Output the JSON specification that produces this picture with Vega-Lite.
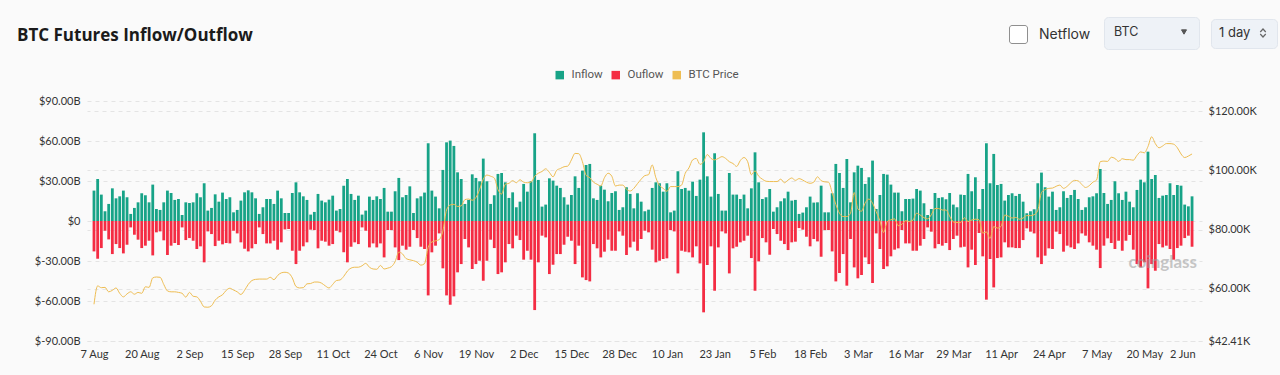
{
"$schema": "https://vega.github.io/schema/vega-lite/v6.json",
"width": 1115, "height": 240,
"autosize": {"type": "none"},
"padding": {"left": 87, "top": 101, "right": 78, "bottom": 34},
"background": "#fafafa",
"title": {"text": "BTC Futures Inflow/Outflow", "anchor": "start", "frame": "group", "dx": -70, "dy": 28, "fontSize": 17, "font": "Open Sans", "fontWeight": 700, "color": "#1b1b1b", "offset": 0},
"config": {
  "view": {"stroke": null},
  "axis": {"labelFont": "Lato", "labelFontSize": 11, "labelColor": "#333333", "ticks": false, "domain": false, "gridColor": "#e4e4e4", "gridDash": [4, 4], "gridWidth": 1, "labelOverlap": false},
  "legend": {"symbolOpacity": 1, "labelFont": "Inter", "titleFont": "Inter"}
},
"data": {"values": [
{"date":"2024-08-07","inflow":22.8,"outflow":-22.8,"price":54800},
{"date":"2024-08-08","inflow":31.5,"outflow":-28.3,"price":61000},
{"date":"2024-08-09","inflow":19.8,"outflow":-20.3,"price":60400},
{"date":"2024-08-10","inflow":7.3,"outflow":-7.3,"price":60500},
{"date":"2024-08-11","inflow":12.8,"outflow":-13.8,"price":59000},
{"date":"2024-08-12","inflow":24.5,"outflow":-24.8,"price":59500},
{"date":"2024-08-13","inflow":17.0,"outflow":-17.3,"price":60300},
{"date":"2024-08-14","inflow":18.5,"outflow":-20.3,"price":58500},
{"date":"2024-08-15","inflow":22.8,"outflow":-24.3,"price":57300},
{"date":"2024-08-16","inflow":17.8,"outflow":-17.8,"price":58300},
{"date":"2024-08-17","inflow":5.3,"outflow":-4.8,"price":59000},
{"date":"2024-08-18","inflow":9.8,"outflow":-10.3,"price":58200},
{"date":"2024-08-19","inflow":14.0,"outflow":-14.0,"price":58800},
{"date":"2024-08-20","inflow":20.8,"outflow":-20.3,"price":58500},
{"date":"2024-08-21","inflow":19.3,"outflow":-18.5,"price":60700},
{"date":"2024-08-22","inflow":14.0,"outflow":-14.8,"price":60500},
{"date":"2024-08-23","inflow":27.3,"outflow":-25.8,"price":63700},
{"date":"2024-08-24","inflow":9.0,"outflow":-8.5,"price":64000},
{"date":"2024-08-25","inflow":8.3,"outflow":-7.8,"price":63900},
{"date":"2024-08-26","inflow":14.0,"outflow":-14.5,"price":61500},
{"date":"2024-08-27","inflow":22.8,"outflow":-25.5,"price":59300},
{"date":"2024-08-28","inflow":21.0,"outflow":-18.5,"price":59000},
{"date":"2024-08-29","inflow":15.8,"outflow":-16.5,"price":59000},
{"date":"2024-08-30","inflow":16.5,"outflow":-18.0,"price":58800},
{"date":"2024-08-31","inflow":4.5,"outflow":-4.8,"price":58500},
{"date":"2024-09-01","inflow":14.0,"outflow":-14.3,"price":57200},
{"date":"2024-09-02","inflow":13.5,"outflow":-12.8,"price":58800},
{"date":"2024-09-03","inflow":14.0,"outflow":-14.8,"price":57500},
{"date":"2024-09-04","inflow":20.8,"outflow":-21.0,"price":57300},
{"date":"2024-09-05","inflow":17.8,"outflow":-19.0,"price":55800},
{"date":"2024-09-06","inflow":28.3,"outflow":-31.0,"price":53900},
{"date":"2024-09-07","inflow":7.8,"outflow":-7.8,"price":53800},
{"date":"2024-09-08","inflow":9.8,"outflow":-9.8,"price":54300},
{"date":"2024-09-09","inflow":20.0,"outflow":-18.8,"price":56200},
{"date":"2024-09-10","inflow":14.5,"outflow":-14.8,"price":57300},
{"date":"2024-09-11","inflow":21.3,"outflow":-17.5,"price":58000},
{"date":"2024-09-12","inflow":16.5,"outflow":-16.5,"price":59500},
{"date":"2024-09-13","inflow":17.8,"outflow":-16.8,"price":60200},
{"date":"2024-09-14","inflow":6.5,"outflow":-7.3,"price":59600},
{"date":"2024-09-15","inflow":8.3,"outflow":-9.3,"price":59000},
{"date":"2024-09-16","inflow":15.3,"outflow":-16.0,"price":58100},
{"date":"2024-09-17","inflow":21.5,"outflow":-20.8,"price":59500},
{"date":"2024-09-18","inflow":23.0,"outflow":-22.8,"price":61500},
{"date":"2024-09-19","inflow":21.5,"outflow":-20.5,"price":62800},
{"date":"2024-09-20","inflow":17.0,"outflow":-17.3,"price":63200},
{"date":"2024-09-21","inflow":5.3,"outflow":-4.8,"price":63300},
{"date":"2024-09-22","inflow":10.3,"outflow":-9.8,"price":63300},
{"date":"2024-09-23","inflow":16.5,"outflow":-16.8,"price":63300},
{"date":"2024-09-24","inflow":16.5,"outflow":-16.8,"price":63900},
{"date":"2024-09-25","inflow":12.8,"outflow":-14.8,"price":63100},
{"date":"2024-09-26","inflow":22.8,"outflow":-21.5,"price":64500},
{"date":"2024-09-27","inflow":17.0,"outflow":-16.0,"price":65400},
{"date":"2024-09-28","inflow":6.0,"outflow":-6.3,"price":65600},
{"date":"2024-09-29","inflow":6.0,"outflow":-6.0,"price":65300},
{"date":"2024-09-30","inflow":21.0,"outflow":-22.3,"price":63700},
{"date":"2024-10-01","inflow":29.0,"outflow":-32.3,"price":60800},
{"date":"2024-10-02","inflow":21.5,"outflow":-22.3,"price":60300},
{"date":"2024-10-03","inflow":18.5,"outflow":-19.0,"price":60400},
{"date":"2024-10-04","inflow":15.8,"outflow":-16.0,"price":61700},
{"date":"2024-10-05","inflow":4.8,"outflow":-6.5,"price":61800},
{"date":"2024-10-06","inflow":6.8,"outflow":-6.8,"price":62300},
{"date":"2024-10-07","inflow":20.3,"outflow":-20.5,"price":62300},
{"date":"2024-10-08","inflow":15.3,"outflow":-14.8,"price":61900},
{"date":"2024-10-09","inflow":14.0,"outflow":-15.5,"price":61000},
{"date":"2024-10-10","inflow":16.0,"outflow":-18.5,"price":60300},
{"date":"2024-10-11","inflow":19.0,"outflow":-17.3,"price":61500},
{"date":"2024-10-12","inflow":7.8,"outflow":-7.3,"price":62800},
{"date":"2024-10-13","inflow":9.0,"outflow":-8.5,"price":63000},
{"date":"2024-10-14","inflow":26.5,"outflow":-23.5,"price":64200},
{"date":"2024-10-15","inflow":31.5,"outflow":-31.0,"price":66000},
{"date":"2024-10-16","inflow":20.3,"outflow":-19.3,"price":67000},
{"date":"2024-10-17","inflow":15.8,"outflow":-16.0,"price":67300},
{"date":"2024-10-18","inflow":19.0,"outflow":-17.3,"price":67300},
{"date":"2024-10-19","inflow":4.8,"outflow":-4.8,"price":67800},
{"date":"2024-10-20","inflow":7.8,"outflow":-7.3,"price":68600},
{"date":"2024-10-21","inflow":18.3,"outflow":-19.8,"price":67300},
{"date":"2024-10-22","inflow":15.8,"outflow":-16.8,"price":66700},
{"date":"2024-10-23","inflow":18.5,"outflow":-19.8,"price":66600},
{"date":"2024-10-24","inflow":16.5,"outflow":-16.8,"price":67900},
{"date":"2024-10-25","inflow":24.8,"outflow":-27.3,"price":66700},
{"date":"2024-10-26","inflow":7.0,"outflow":-6.8,"price":67000},
{"date":"2024-10-27","inflow":7.0,"outflow":-6.8,"price":67500},
{"date":"2024-10-28","inflow":22.3,"outflow":-19.8,"price":69200},
{"date":"2024-10-29","inflow":32.3,"outflow":-29.3,"price":72400},
{"date":"2024-10-30","inflow":17.8,"outflow":-18.5,"price":71800},
{"date":"2024-10-31","inflow":19.5,"outflow":-21.5,"price":70200},
{"date":"2024-11-01","inflow":26.0,"outflow":-19.3,"price":69800},
{"date":"2024-11-02","inflow":6.0,"outflow":-6.8,"price":69500},
{"date":"2024-11-03","inflow":17.0,"outflow":-12.8,"price":69000},
{"date":"2024-11-04","inflow":18.5,"outflow":-19.3,"price":68000},
{"date":"2024-11-05","inflow":21.3,"outflow":-21.0,"price":68500},
{"date":"2024-11-06","inflow":58.3,"outflow":-55.8,"price":74000},
{"date":"2024-11-07","inflow":22.8,"outflow":-23.5,"price":75800},
{"date":"2024-11-08","inflow":18.3,"outflow":-18.5,"price":76200},
{"date":"2024-11-09","inflow":9.5,"outflow":-9.3,"price":76600},
{"date":"2024-11-10","inflow":38.3,"outflow":-35.5,"price":79500},
{"date":"2024-11-11","inflow":59.0,"outflow":-55.8,"price":86600},
{"date":"2024-11-12","inflow":60.3,"outflow":-62.8,"price":88300},
{"date":"2024-11-13","inflow":56.3,"outflow":-56.5,"price":88500},
{"date":"2024-11-14","inflow":36.5,"outflow":-38.5,"price":87800},
{"date":"2024-11-15","inflow":31.5,"outflow":-32.3,"price":88000},
{"date":"2024-11-16","inflow":12.8,"outflow":-13.5,"price":90100},
{"date":"2024-11-17","inflow":15.8,"outflow":-19.8,"price":90300},
{"date":"2024-11-18","inflow":35.0,"outflow":-36.0,"price":89900},
{"date":"2024-11-19","inflow":32.3,"outflow":-32.3,"price":90800},
{"date":"2024-11-20","inflow":29.8,"outflow":-29.8,"price":93500},
{"date":"2024-11-21","inflow":46.8,"outflow":-44.8,"price":97000},
{"date":"2024-11-22","inflow":29.8,"outflow":-29.8,"price":98400},
{"date":"2024-11-23","inflow":12.8,"outflow":-14.0,"price":98000},
{"date":"2024-11-24","inflow":19.3,"outflow":-20.3,"price":97400},
{"date":"2024-11-25","inflow":35.3,"outflow":-39.8,"price":93500},
{"date":"2024-11-26","inflow":36.0,"outflow":-38.5,"price":92000},
{"date":"2024-11-27","inflow":29.0,"outflow":-31.0,"price":95300},
{"date":"2024-11-28","inflow":17.3,"outflow":-17.3,"price":95600},
{"date":"2024-11-29","inflow":21.5,"outflow":-20.5,"price":96500},
{"date":"2024-11-30","inflow":10.3,"outflow":-11.0,"price":95800},
{"date":"2024-12-01","inflow":14.5,"outflow":-14.3,"price":96800},
{"date":"2024-12-02","inflow":27.8,"outflow":-29.0,"price":96000},
{"date":"2024-12-03","inflow":22.0,"outflow":-22.3,"price":95800},
{"date":"2024-12-04","inflow":29.8,"outflow":-29.0,"price":96000},
{"date":"2024-12-05","inflow":65.8,"outflow":-66.8,"price":98000},
{"date":"2024-12-06","inflow":30.8,"outflow":-31.0,"price":99000},
{"date":"2024-12-07","inflow":10.8,"outflow":-11.0,"price":99600},
{"date":"2024-12-08","inflow":12.3,"outflow":-12.3,"price":100500},
{"date":"2024-12-09","inflow":32.0,"outflow":-39.8,"price":99300},
{"date":"2024-12-10","inflow":30.3,"outflow":-32.8,"price":97800},
{"date":"2024-12-11","inflow":26.5,"outflow":-24.8,"price":100000},
{"date":"2024-12-12","inflow":24.8,"outflow":-24.8,"price":100600},
{"date":"2024-12-13","inflow":17.8,"outflow":-17.8,"price":101200},
{"date":"2024-12-14","inflow":12.3,"outflow":-11.8,"price":101400},
{"date":"2024-12-15","inflow":19.5,"outflow":-14.8,"price":103500},
{"date":"2024-12-16","inflow":33.5,"outflow":-32.3,"price":105700},
{"date":"2024-12-17","inflow":24.8,"outflow":-18.5,"price":105600},
{"date":"2024-12-18","inflow":37.8,"outflow":-42.3,"price":102900},
{"date":"2024-12-19","inflow":42.0,"outflow":-44.3,"price":98300},
{"date":"2024-12-20","inflow":42.8,"outflow":-45.3,"price":97500},
{"date":"2024-12-21","inflow":17.0,"outflow":-17.3,"price":96000},
{"date":"2024-12-22","inflow":15.8,"outflow":-20.5,"price":95300},
{"date":"2024-12-23","inflow":26.5,"outflow":-27.3,"price":94700},
{"date":"2024-12-24","inflow":23.5,"outflow":-23.0,"price":97500},
{"date":"2024-12-25","inflow":14.8,"outflow":-14.0,"price":99000},
{"date":"2024-12-26","inflow":21.0,"outflow":-22.3,"price":98000},
{"date":"2024-12-27","inflow":22.3,"outflow":-22.3,"price":94700},
{"date":"2024-12-28","inflow":8.3,"outflow":-7.8,"price":95000},
{"date":"2024-12-29","inflow":10.3,"outflow":-11.0,"price":95000},
{"date":"2024-12-30","inflow":25.3,"outflow":-25.5,"price":93600},
{"date":"2024-12-31","inflow":20.3,"outflow":-19.8,"price":93000},
{"date":"2025-01-01","inflow":9.5,"outflow":-15.5,"price":93900},
{"date":"2025-01-02","inflow":20.8,"outflow":-22.3,"price":95500},
{"date":"2025-01-03","inflow":14.5,"outflow":-13.5,"price":97000},
{"date":"2025-01-04","inflow":7.3,"outflow":-7.3,"price":98200},
{"date":"2025-01-05","inflow":8.5,"outflow":-8.5,"price":98500},
{"date":"2025-01-06","inflow":24.8,"outflow":-21.5,"price":101800},
{"date":"2025-01-07","inflow":29.0,"outflow":-31.0,"price":97500},
{"date":"2025-01-08","inflow":28.3,"outflow":-29.8,"price":94900},
{"date":"2025-01-09","inflow":22.0,"outflow":-28.5,"price":93900},
{"date":"2025-01-10","inflow":28.3,"outflow":-28.0,"price":92900},
{"date":"2025-01-11","inflow":6.5,"outflow":-6.8,"price":94500},
{"date":"2025-01-12","inflow":7.8,"outflow":-7.8,"price":94500},
{"date":"2025-01-13","inflow":37.3,"outflow":-39.3,"price":94500},
{"date":"2025-01-14","inflow":24.0,"outflow":-22.3,"price":95000},
{"date":"2025-01-15","inflow":24.8,"outflow":-23.0,"price":99000},
{"date":"2025-01-16","inflow":22.8,"outflow":-23.5,"price":100800},
{"date":"2025-01-17","inflow":29.5,"outflow":-27.3,"price":103500},
{"date":"2025-01-18","inflow":18.8,"outflow":-19.0,"price":104000},
{"date":"2025-01-19","inflow":31.0,"outflow":-31.8,"price":102000},
{"date":"2025-01-20","inflow":66.5,"outflow":-68.5,"price":102900},
{"date":"2025-01-21","inflow":33.5,"outflow":-33.0,"price":105300},
{"date":"2025-01-22","inflow":18.3,"outflow":-19.0,"price":104000},
{"date":"2025-01-23","inflow":50.8,"outflow":-52.3,"price":103500},
{"date":"2025-01-24","inflow":20.3,"outflow":-19.8,"price":104000},
{"date":"2025-01-25","inflow":7.8,"outflow":-7.8,"price":104600},
{"date":"2025-01-26","inflow":7.8,"outflow":-9.3,"price":104000},
{"date":"2025-01-27","inflow":36.0,"outflow":-39.3,"price":102900},
{"date":"2025-01-28","inflow":19.8,"outflow":-20.5,"price":102300},
{"date":"2025-01-29","inflow":19.8,"outflow":-19.3,"price":101300},
{"date":"2025-01-30","inflow":16.5,"outflow":-16.0,"price":103300},
{"date":"2025-01-31","inflow":19.8,"outflow":-14.8,"price":104300},
{"date":"2025-02-01","inflow":9.5,"outflow":-11.0,"price":102900},
{"date":"2025-02-02","inflow":24.5,"outflow":-27.8,"price":98500},
{"date":"2025-02-03","inflow":51.5,"outflow":-52.3,"price":99800},
{"date":"2025-02-04","inflow":29.0,"outflow":-30.3,"price":98000},
{"date":"2025-02-05","inflow":16.5,"outflow":-12.8,"price":97000},
{"date":"2025-02-06","inflow":17.8,"outflow":-16.0,"price":96300},
{"date":"2025-02-07","inflow":24.0,"outflow":-25.3,"price":96200},
{"date":"2025-02-08","inflow":7.0,"outflow":-6.0,"price":96200},
{"date":"2025-02-09","inflow":10.3,"outflow":-9.8,"price":96200},
{"date":"2025-02-10","inflow":14.8,"outflow":-14.8,"price":97000},
{"date":"2025-02-11","inflow":17.0,"outflow":-17.3,"price":95800},
{"date":"2025-02-12","inflow":22.0,"outflow":-21.8,"price":96700},
{"date":"2025-02-13","inflow":15.3,"outflow":-16.0,"price":97400},
{"date":"2025-02-14","inflow":15.8,"outflow":-15.5,"price":96600},
{"date":"2025-02-15","inflow":5.3,"outflow":-5.3,"price":97200},
{"date":"2025-02-16","inflow":6.3,"outflow":-6.5,"price":96700},
{"date":"2025-02-17","inflow":10.3,"outflow":-11.8,"price":96000},
{"date":"2025-02-18","inflow":18.3,"outflow":-19.0,"price":95600},
{"date":"2025-02-19","inflow":13.8,"outflow":-13.5,"price":96000},
{"date":"2025-02-20","inflow":14.0,"outflow":-15.3,"price":97800},
{"date":"2025-02-21","inflow":26.5,"outflow":-26.8,"price":96500},
{"date":"2025-02-22","inflow":6.5,"outflow":-6.8,"price":96100},
{"date":"2025-02-23","inflow":6.5,"outflow":-6.8,"price":96000},
{"date":"2025-02-24","inflow":20.8,"outflow":-22.8,"price":92500},
{"date":"2025-02-25","inflow":42.8,"outflow":-45.3,"price":88500},
{"date":"2025-02-26","inflow":36.0,"outflow":-39.0,"price":85500},
{"date":"2025-02-27","inflow":24.8,"outflow":-24.8,"price":84400},
{"date":"2025-02-28","inflow":46.5,"outflow":-48.5,"price":84400},
{"date":"2025-03-01","inflow":14.0,"outflow":-13.5,"price":85500},
{"date":"2025-03-02","inflow":36.5,"outflow":-34.8,"price":92500},
{"date":"2025-03-03","inflow":41.5,"outflow":-43.0,"price":87000},
{"date":"2025-03-04","inflow":39.8,"outflow":-40.5,"price":86200},
{"date":"2025-03-05","inflow":27.8,"outflow":-27.3,"price":89000},
{"date":"2025-03-06","inflow":32.8,"outflow":-32.3,"price":90300},
{"date":"2025-03-07","inflow":45.3,"outflow":-46.5,"price":88900},
{"date":"2025-03-08","inflow":9.0,"outflow":-9.3,"price":86000},
{"date":"2025-03-09","inflow":19.5,"outflow":-21.0,"price":83000},
{"date":"2025-03-10","inflow":35.3,"outflow":-36.0,"price":79000},
{"date":"2025-03-11","inflow":34.8,"outflow":-34.0,"price":82700},
{"date":"2025-03-12","inflow":27.3,"outflow":-26.5,"price":83300},
{"date":"2025-03-13","inflow":21.3,"outflow":-21.5,"price":83600},
{"date":"2025-03-14","inflow":21.3,"outflow":-20.5,"price":81300},
{"date":"2025-03-15","inflow":7.3,"outflow":-6.8,"price":81800},
{"date":"2025-03-16","inflow":16.5,"outflow":-16.8,"price":83000},
{"date":"2025-03-17","inflow":16.5,"outflow":-16.8,"price":82700},
{"date":"2025-03-18","inflow":16.8,"outflow":-22.3,"price":83200},
{"date":"2025-03-19","inflow":24.0,"outflow":-22.3,"price":85500},
{"date":"2025-03-20","inflow":22.8,"outflow":-18.5,"price":84900},
{"date":"2025-03-21","inflow":13.3,"outflow":-13.5,"price":84000},
{"date":"2025-03-22","inflow":4.5,"outflow":-4.8,"price":83600},
{"date":"2025-03-23","inflow":9.0,"outflow":-8.0,"price":85000},
{"date":"2025-03-24","inflow":21.0,"outflow":-20.5,"price":87100},
{"date":"2025-03-25","inflow":17.3,"outflow":-17.3,"price":87100},
{"date":"2025-03-26","inflow":17.8,"outflow":-18.5,"price":86600},
{"date":"2025-03-27","inflow":16.3,"outflow":-16.5,"price":86600},
{"date":"2025-03-28","inflow":21.0,"outflow":-21.8,"price":84500},
{"date":"2025-03-29","inflow":12.3,"outflow":-13.5,"price":82600},
{"date":"2025-03-30","inflow":10.3,"outflow":-11.0,"price":82400},
{"date":"2025-03-31","inflow":19.8,"outflow":-19.8,"price":82400},
{"date":"2025-04-01","inflow":19.5,"outflow":-19.3,"price":84000},
{"date":"2025-04-02","inflow":35.3,"outflow":-34.8,"price":82700},
{"date":"2025-04-03","inflow":22.3,"outflow":-21.5,"price":83200},
{"date":"2025-04-04","inflow":32.8,"outflow":-33.0,"price":83500},
{"date":"2025-04-05","inflow":9.0,"outflow":-9.0,"price":83300},
{"date":"2025-04-06","inflow":24.0,"outflow":-26.5,"price":78800},
{"date":"2025-04-07","inflow":58.3,"outflow":-59.0,"price":79200},
{"date":"2025-04-08","inflow":28.3,"outflow":-28.5,"price":77000},
{"date":"2025-04-09","inflow":50.3,"outflow":-49.8,"price":81000},
{"date":"2025-04-10","inflow":27.0,"outflow":-27.8,"price":80500},
{"date":"2025-04-11","inflow":27.8,"outflow":-27.3,"price":81100},
{"date":"2025-04-12","inflow":15.3,"outflow":-16.0,"price":84900},
{"date":"2025-04-13","inflow":19.5,"outflow":-19.8,"price":84500},
{"date":"2025-04-14","inflow":20.8,"outflow":-19.8,"price":83900},
{"date":"2025-04-15","inflow":18.8,"outflow":-20.3,"price":84100},
{"date":"2025-04-16","inflow":20.3,"outflow":-20.3,"price":83500},
{"date":"2025-04-17","inflow":14.5,"outflow":-14.3,"price":83900},
{"date":"2025-04-18","inflow":5.8,"outflow":-5.5,"price":84700},
{"date":"2025-04-19","inflow":7.3,"outflow":-8.0,"price":84700},
{"date":"2025-04-20","inflow":8.8,"outflow":-9.3,"price":85000},
{"date":"2025-04-21","inflow":28.3,"outflow":-27.3,"price":86500},
{"date":"2025-04-22","inflow":36.3,"outflow":-32.3,"price":92500},
{"date":"2025-04-23","inflow":25.3,"outflow":-26.0,"price":93500},
{"date":"2025-04-24","inflow":18.3,"outflow":-20.5,"price":93900},
{"date":"2025-04-25","inflow":22.0,"outflow":-21.0,"price":94000},
{"date":"2025-04-26","inflow":8.3,"outflow":-8.0,"price":94600},
{"date":"2025-04-27","inflow":10.3,"outflow":-9.8,"price":95000},
{"date":"2025-04-28","inflow":22.3,"outflow":-23.0,"price":93900},
{"date":"2025-04-29","inflow":17.3,"outflow":-18.5,"price":94600},
{"date":"2025-04-30","inflow":19.5,"outflow":-19.8,"price":95800},
{"date":"2025-05-01","inflow":23.3,"outflow":-21.0,"price":96600},
{"date":"2025-05-02","inflow":16.5,"outflow":-16.8,"price":96400},
{"date":"2025-05-03","inflow":8.3,"outflow":-9.3,"price":95200},
{"date":"2025-05-04","inflow":10.3,"outflow":-11.0,"price":94200},
{"date":"2025-05-05","inflow":17.8,"outflow":-16.0,"price":94800},
{"date":"2025-05-06","inflow":18.5,"outflow":-18.5,"price":96000},
{"date":"2025-05-07","inflow":20.8,"outflow":-21.5,"price":96700},
{"date":"2025-05-08","inflow":39.0,"outflow":-35.3,"price":102900},
{"date":"2025-05-09","inflow":21.0,"outflow":-18.5,"price":103100},
{"date":"2025-05-10","inflow":12.8,"outflow":-13.0,"price":103000},
{"date":"2025-05-11","inflow":15.8,"outflow":-16.5,"price":104400},
{"date":"2025-05-12","inflow":29.8,"outflow":-21.0,"price":104000},
{"date":"2025-05-13","inflow":20.8,"outflow":-14.8,"price":103000},
{"date":"2025-05-14","inflow":15.8,"outflow":-22.3,"price":103900},
{"date":"2025-05-15","inflow":22.0,"outflow":-14.8,"price":103600},
{"date":"2025-05-16","inflow":14.5,"outflow":-10.5,"price":103600},
{"date":"2025-05-17","inflow":10.3,"outflow":-21.5,"price":103400},
{"date":"2025-05-18","inflow":23.3,"outflow":-32.3,"price":105000},
{"date":"2025-05-19","inflow":31.0,"outflow":-34.8,"price":106200},
{"date":"2025-05-20","inflow":29.0,"outflow":-31.0,"price":105900},
{"date":"2025-05-21","inflow":52.0,"outflow":-50.5,"price":108000},
{"date":"2025-05-22","inflow":31.5,"outflow":-32.3,"price":111300},
{"date":"2025-05-23","inflow":34.5,"outflow":-37.3,"price":109000},
{"date":"2025-05-24","inflow":17.3,"outflow":-17.3,"price":107600},
{"date":"2025-05-25","inflow":19.0,"outflow":-19.8,"price":108200},
{"date":"2025-05-26","inflow":19.5,"outflow":-18.5,"price":109000},
{"date":"2025-05-27","inflow":28.3,"outflow":-21.0,"price":109000},
{"date":"2025-05-28","inflow":19.5,"outflow":-29.0,"price":108800},
{"date":"2025-05-29","inflow":27.0,"outflow":-20.3,"price":107600},
{"date":"2025-05-30","inflow":26.5,"outflow":-18.5,"price":105500},
{"date":"2025-05-31","inflow":12.3,"outflow":-12.8,"price":104300},
{"date":"2025-06-01","inflow":11.0,"outflow":-11.0,"price":104800},
{"date":"2025-06-02","inflow":18.5,"outflow":-19.3,"price":105500}
]},
"layer": [
  {"layer": [
    {"mark": {"type": "bar", "width": 2.8},
     "encoding": {
       "x": {"field": "date", "type": "temporal", "title": null,
             "scale": {"type": "utc", "domain": [{"year": 2024, "month": 8, "date": 6, "hours": 11, "utc": true}, {"year": 2025, "month": 6, "date": 3, "hours": 8, "minutes": 24, "utc": true}]},
             "axis": {"values": [{"year":2024,"month":8,"date":7,"utc":true},{"year":2024,"month":8,"date":20,"utc":true},{"year":2024,"month":9,"date":2,"utc":true},{"year":2024,"month":9,"date":15,"utc":true},{"year":2024,"month":9,"date":28,"utc":true},{"year":2024,"month":10,"date":11,"utc":true},{"year":2024,"month":10,"date":24,"utc":true},{"year":2024,"month":11,"date":6,"utc":true},{"year":2024,"month":11,"date":19,"utc":true},{"year":2024,"month":12,"date":2,"utc":true},{"year":2024,"month":12,"date":15,"utc":true},{"year":2024,"month":12,"date":28,"utc":true},{"year":2025,"month":1,"date":10,"utc":true},{"year":2025,"month":1,"date":23,"utc":true},{"year":2025,"month":2,"date":5,"utc":true},{"year":2025,"month":2,"date":18,"utc":true},{"year":2025,"month":3,"date":3,"utc":true},{"year":2025,"month":3,"date":16,"utc":true},{"year":2025,"month":3,"date":29,"utc":true},{"year":2025,"month":4,"date":11,"utc":true},{"year":2025,"month":4,"date":24,"utc":true},{"year":2025,"month":5,"date":7,"utc":true},{"year":2025,"month":5,"date":20,"utc":true},{"year":2025,"month":6,"date":2,"utc":true}],
                      "format": "%-d %b", "grid": false, "labelPadding": 7, "labelOverlap": false, "labelFlush": false,
                      "labelAlign": {"condition": {"test": "datum.value > 1748700000000", "value": "right"}, "value": "center"},
                      "labelOffset": {"condition": {"test": "datum.value > 1748700000000", "value": 3}, "value": 0}}},
       "y": {"field": "inflow", "type": "quantitative", "title": null,
             "scale": {"domain": [-90, 90], "nice": false},
             "axis": {"orient": "left", "values": [-90, -60, -30, 0, 30, 60, 90], "grid": true, "labelPadding": 7, "labelOverlap": false,
                      "labelExpr": "datum.value == 0 ? '$0' : (datum.value < 0 ? '$-' + format(-datum.value, '.2f') + 'B' : '$' + format(datum.value, '.2f') + 'B')"}},
       "color": {"datum": "Inflow",
                 "scale": {"domain": ["Inflow", "Ouflow", "BTC Price"], "range": ["#17a387", "#f42c43", "#eebd52"]},
                 "legend": {"orient": "none", "legendX": 467, "legendY": -32, "direction": "horizontal", "title": null, "symbolType": "square", "symbolSize": 72, "symbolStrokeWidth": 0, "labelFont": "Roboto", "labelFontSize": 11.5, "labelColor": "#555555", "labelOffset": 6, "columnPadding": 7, "padding": 0}}
     }},
    {"mark": {"type": "bar", "width": 2.8},
     "encoding": {
       "x": {"field": "date", "type": "temporal", "title": null,
             "scale": {"type": "utc", "domain": [{"year": 2024, "month": 8, "date": 6, "hours": 11, "utc": true}, {"year": 2025, "month": 6, "date": 3, "hours": 8, "minutes": 24, "utc": true}]},
             "axis": {"values": [{"year":2024,"month":8,"date":7,"utc":true},{"year":2024,"month":8,"date":20,"utc":true},{"year":2024,"month":9,"date":2,"utc":true},{"year":2024,"month":9,"date":15,"utc":true},{"year":2024,"month":9,"date":28,"utc":true},{"year":2024,"month":10,"date":11,"utc":true},{"year":2024,"month":10,"date":24,"utc":true},{"year":2024,"month":11,"date":6,"utc":true},{"year":2024,"month":11,"date":19,"utc":true},{"year":2024,"month":12,"date":2,"utc":true},{"year":2024,"month":12,"date":15,"utc":true},{"year":2024,"month":12,"date":28,"utc":true},{"year":2025,"month":1,"date":10,"utc":true},{"year":2025,"month":1,"date":23,"utc":true},{"year":2025,"month":2,"date":5,"utc":true},{"year":2025,"month":2,"date":18,"utc":true},{"year":2025,"month":3,"date":3,"utc":true},{"year":2025,"month":3,"date":16,"utc":true},{"year":2025,"month":3,"date":29,"utc":true},{"year":2025,"month":4,"date":11,"utc":true},{"year":2025,"month":4,"date":24,"utc":true},{"year":2025,"month":5,"date":7,"utc":true},{"year":2025,"month":5,"date":20,"utc":true},{"year":2025,"month":6,"date":2,"utc":true}],
                      "format": "%-d %b", "grid": false, "labelPadding": 7, "labelOverlap": false, "labelFlush": false,
                      "labelAlign": {"condition": {"test": "datum.value > 1748700000000", "value": "right"}, "value": "center"},
                      "labelOffset": {"condition": {"test": "datum.value > 1748700000000", "value": 3}, "value": 0}}},
       "y": {"field": "outflow", "type": "quantitative", "title": null,
             "axis": {"orient": "left", "values": [-90, -60, -30, 0, 30, 60, 90], "grid": true, "labelPadding": 7, "labelOverlap": false,
                      "labelExpr": "datum.value == 0 ? '$0' : (datum.value < 0 ? '$-' + format(-datum.value, '.2f') + 'B' : '$' + format(datum.value, '.2f') + 'B')"}},
       "color": {"datum": "Ouflow"}
     }},
    {"data": {"values": [{"label": "coinglass"}]},
     "mark": {"type": "text", "font": "Lato", "fontWeight": "bold", "fontSize": 17, "color": "#9a9a9a", "opacity": 0.55, "align": "left", "baseline": "middle"},
     "encoding": {
       "x": {"datum": {"year": 2025, "month": 5, "date": 15, "hours": 17, "utc": true}, "type": "temporal", "title": null,
             "axis": {"values": [{"year":2024,"month":8,"date":7,"utc":true},{"year":2024,"month":8,"date":20,"utc":true},{"year":2024,"month":9,"date":2,"utc":true},{"year":2024,"month":9,"date":15,"utc":true},{"year":2024,"month":9,"date":28,"utc":true},{"year":2024,"month":10,"date":11,"utc":true},{"year":2024,"month":10,"date":24,"utc":true},{"year":2024,"month":11,"date":6,"utc":true},{"year":2024,"month":11,"date":19,"utc":true},{"year":2024,"month":12,"date":2,"utc":true},{"year":2024,"month":12,"date":15,"utc":true},{"year":2024,"month":12,"date":28,"utc":true},{"year":2025,"month":1,"date":10,"utc":true},{"year":2025,"month":1,"date":23,"utc":true},{"year":2025,"month":2,"date":5,"utc":true},{"year":2025,"month":2,"date":18,"utc":true},{"year":2025,"month":3,"date":3,"utc":true},{"year":2025,"month":3,"date":16,"utc":true},{"year":2025,"month":3,"date":29,"utc":true},{"year":2025,"month":4,"date":11,"utc":true},{"year":2025,"month":4,"date":24,"utc":true},{"year":2025,"month":5,"date":7,"utc":true},{"year":2025,"month":5,"date":20,"utc":true},{"year":2025,"month":6,"date":2,"utc":true}],
                      "format": "%-d %b", "grid": false, "labelPadding": 7, "labelOverlap": false, "labelFlush": false,
                      "labelAlign": {"condition": {"test": "datum.value > 1748700000000", "value": "right"}, "value": "center"},
                      "labelOffset": {"condition": {"test": "datum.value > 1748700000000", "value": 3}, "value": 0}}},
       "y": {"datum": -31.5, "type": "quantitative", "title": null,
             "axis": {"orient": "left", "values": [-90, -60, -30, 0, 30, 60, 90], "grid": true, "labelPadding": 7, "labelOverlap": false,
                      "labelExpr": "datum.value == 0 ? '$0' : (datum.value < 0 ? '$-' + format(-datum.value, '.2f') + 'B' : '$' + format(datum.value, '.2f') + 'B')"}},
       "text": {"field": "label"}
     }}
  ]},
  {"mark": {"type": "line", "interpolate": "monotone", "strokeWidth": 1, "color": "#eebd52"},
   "encoding": {
     "x": {"field": "date", "type": "temporal", "title": null,
           "scale": {"type": "utc", "domain": [{"year": 2024, "month": 8, "date": 6, "hours": 11, "utc": true}, {"year": 2025, "month": 6, "date": 3, "hours": 8, "minutes": 24, "utc": true}]},
           "axis": {"values": [{"year":2024,"month":8,"date":7,"utc":true},{"year":2024,"month":8,"date":20,"utc":true},{"year":2024,"month":9,"date":2,"utc":true},{"year":2024,"month":9,"date":15,"utc":true},{"year":2024,"month":9,"date":28,"utc":true},{"year":2024,"month":10,"date":11,"utc":true},{"year":2024,"month":10,"date":24,"utc":true},{"year":2024,"month":11,"date":6,"utc":true},{"year":2024,"month":11,"date":19,"utc":true},{"year":2024,"month":12,"date":2,"utc":true},{"year":2024,"month":12,"date":15,"utc":true},{"year":2024,"month":12,"date":28,"utc":true},{"year":2025,"month":1,"date":10,"utc":true},{"year":2025,"month":1,"date":23,"utc":true},{"year":2025,"month":2,"date":5,"utc":true},{"year":2025,"month":2,"date":18,"utc":true},{"year":2025,"month":3,"date":3,"utc":true},{"year":2025,"month":3,"date":16,"utc":true},{"year":2025,"month":3,"date":29,"utc":true},{"year":2025,"month":4,"date":11,"utc":true},{"year":2025,"month":4,"date":24,"utc":true},{"year":2025,"month":5,"date":7,"utc":true},{"year":2025,"month":5,"date":20,"utc":true},{"year":2025,"month":6,"date":2,"utc":true}],
                    "format": "%-d %b", "grid": false, "labelPadding": 7, "labelOverlap": false, "labelFlush": false,
                    "labelAlign": {"condition": {"test": "datum.value > 1748700000000", "value": "right"}, "value": "center"},
                    "labelOffset": {"condition": {"test": "datum.value > 1748700000000", "value": 3}, "value": 0}}},
     "y": {"field": "price", "type": "quantitative", "title": null,
           "scale": {"domain": [42410, 123374], "nice": false, "zero": false},
           "axis": {"orient": "right", "values": [42410, 60000, 80000, 100000, 120000], "grid": true, "labelPadding": 6, "labelOverlap": false,
                    "labelExpr": "'$' + format(datum.value / 1000, '.2f') + 'K'"}}
   }},
  {"data": {"values": [{"control": "Netflow", "coin": "BTC", "interval": "1 day"}]},
   "mark": {"type": "point", "opacity": 0},
   "encoding": {
     "shape": {"field": "control", "type": "nominal",
               "scale": {"range": ["M-0.72,-1H0.72A0.28,0.28 0 0 1 1,-0.72V0.72A0.28,0.28 0 0 1 0.72,1H-0.72A0.28,0.28 0 0 1 -1,0.72V-0.72A0.28,0.28 0 0 1 -0.72,-1Z"]},
               "legend": {"orient": "none", "legendX": 922, "legendY": -76, "title": null, "padding": 0, "symbolSize": 324, "symbolOpacity": 1, "symbolFillColor": "#ffffff", "symbolStrokeColor": "#8f8f8f", "symbolStrokeWidth": 1, "labelFontSize": 14, "labelColor": "#333333", "labelOffset": 11}},
     "stroke": {"field": "coin", "type": "nominal",
                "scale": {"range": ["#555555"]},
                "legend": {"orient": "none", "legendX": 1017, "legendY": -84, "title": "BTC", "titleOrient": "left", "titleFontSize": 12.5, "titleFontWeight": "normal", "titleColor": "#333333", "titlePadding": 40, "symbolType": "triangle-down", "symbolSize": 25, "symbolOpacity": 1, "symbolFillColor": "#555555", "symbolStrokeWidth": 1, "labelExpr": "''", "labelOffset": 0, "padding": 10, "fillColor": "#eef2f7", "strokeColor": "#e1e6ed", "cornerRadius": 4}},
     "fill": {"field": "interval", "type": "nominal",
              "scale": {"range": ["transparent"]},
              "legend": {"orient": "none", "legendX": 1124, "legendY": -82, "title": "1 day", "titleOrient": "left", "titleFontSize": 13, "titleFontWeight": "normal", "titleColor": "#333333", "titlePadding": 6, "symbolType": "M-0.55,-0.2L0,-0.8L0.55,-0.2M-0.55,0.2L0,0.8L0.55,0.2", "symbolSize": 100, "symbolOpacity": 1, "symbolStrokeColor": "#666666", "symbolStrokeWidth": 1.2, "labelExpr": "''", "labelOffset": 0, "padding": 8, "fillColor": "#eef2f7", "strokeColor": "#e1e6ed", "cornerRadius": 4}}
   }}
],
"resolve": {"scale": {"y": "independent"}, "axis": {"y": "independent"}}
}
